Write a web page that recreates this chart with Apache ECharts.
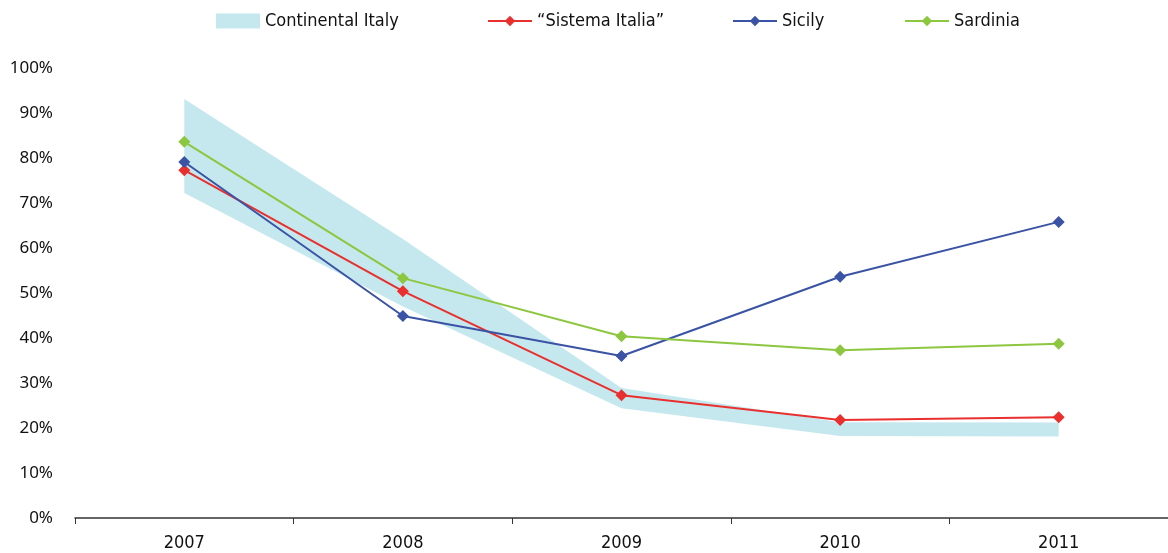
<!DOCTYPE html>
<html>
<head>
<meta charset="utf-8">
<script src="https://cdn.jsdelivr.net/npm/echarts@6/dist/echarts.min.js"></script>
<style>
  html, body { margin: 0; padding: 0; background: #fff; }
  #chart { width: 1168px; height: 553px; }
</style>
</head>
<body>
<div id="chart"></div>
<script>
// Years on the category axis
const years = ['2007', '2008', '2009', '2010', '2011'];

// Continental Italy range (shaded band), as shares
const continentalLow  = [0.722, 0.470, 0.244, 0.182, 0.181];
const continentalHigh = [0.931, 0.620, 0.289, 0.213, 0.212];

// Individual series, as shares
const sistemaItalia = [0.773, 0.504, 0.273, 0.218, 0.224];
const sicily        = [0.791, 0.449, 0.360, 0.536, 0.658];
const sardinia      = [0.836, 0.533, 0.404, 0.373, 0.387];

// Y-axis ticks
const yMin = 0, yMax = 1, yStep = 0.1;

const bandColor = '#c5e8ef';
const redColor = '#e8302e';
const blueColor = '#3a53a4';
const greenColor = '#8dc63f';

const bandWidth = continentalHigh.map((v, i) => +(v - continentalLow[i]).toFixed(3));

const narrowFont = 'DejaVu Sans Condensed, Liberation Sans Narrow, Liberation Sans, sans-serif';
const legendFont = { fontFamily: narrowFont, fontSize: 18, color: '#111' };

function lineSeries(name, data, color) {
  return {
    name, type: 'line', data,
    symbol: 'diamond', symbolSize: 12,
    lineStyle: { color, width: 2 },
    itemStyle: { color },
    z: 5
  };
}

const chart = echarts.init(document.getElementById('chart'));
chart.setOption({
  animation: false,
  grid: { left: 75, top: 68, width: 1095, height: 450, containLabel: false },
  legend: [
    { left: 211, top: 7, itemWidth: 44, itemHeight: 15, itemGap: 2, icon: 'rect',
      data: ['Continental Italy'], textStyle: legendFont, selectedMode: false },
    { left: 482, top: 7, itemWidth: 44, itemHeight: 13, itemGap: 2, data: ['\u201cSistema Italia\u201d'],
      textStyle: legendFont, selectedMode: false },
    { left: 727, top: 7, itemWidth: 44, itemHeight: 13, itemGap: 2, data: ['Sicily'],
      textStyle: legendFont, selectedMode: false },
    { left: 899, top: 7, itemWidth: 44, itemHeight: 13, itemGap: 2, data: ['Sardinia'],
      textStyle: legendFont, selectedMode: false }
  ],
  xAxis: {
    type: 'category', data: years, boundaryGap: true,
    axisLine: { lineStyle: { color: '#333', width: 1.5 } },
    axisTick: { show: true, length: 6, inside: false, interval: 0, lineStyle: { color: '#333' } },
    axisLabel: { fontFamily: narrowFont, fontSize: 18, color: '#111', margin: 16 },
    splitLine: { show: false }
  },
  yAxis: {
    type: 'value', min: yMin, max: yMax, interval: yStep,
    axisLine: { show: false }, axisTick: { show: false },
    splitLine: { show: false },
    axisLabel: {
      formatter: v => Math.round(v * 100) + '%',
      fontFamily: 'Noto Sans, DejaVu Sans, sans-serif', fontSize: 17, color: '#111', margin: 22
    }
  },
  series: [
    {
      name: 'bandBase', type: 'line', data: continentalLow, stack: 'band',
      symbol: 'none', lineStyle: { opacity: 0 }, areaStyle: { opacity: 0 },
      silent: true, z: 1
    },
    {
      name: 'Continental Italy', type: 'line', data: bandWidth, stack: 'band',
      symbol: 'none', lineStyle: { opacity: 0 },
      itemStyle: { color: bandColor },
      areaStyle: { color: bandColor, opacity: 1 },
      silent: true, z: 2
    },
    lineSeries('\u201cSistema Italia\u201d', sistemaItalia, redColor),
    lineSeries('Sicily', sicily, blueColor),
    lineSeries('Sardinia', sardinia, greenColor)
  ]
});
</script>
</body>
</html>
